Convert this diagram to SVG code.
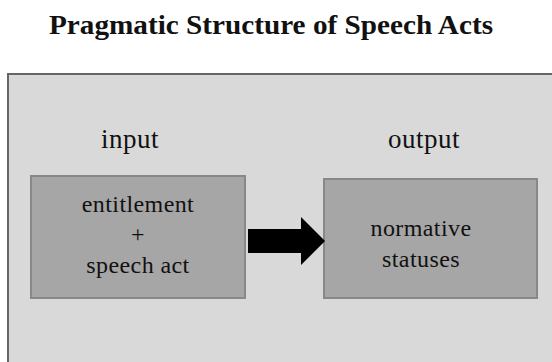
<svg xmlns="http://www.w3.org/2000/svg" width="552" height="362" viewBox="0 0 552 362">
<style>
.t{font-family:"Liberation Serif","DejaVu Serif",serif;fill:#111;text-anchor:middle}
.title{font-weight:bold;font-size:28px}
.lbl{font-size:27px;letter-spacing:0.5px}
.box{fill:#a6a6a6;stroke:#888;stroke-width:2}
.in{font-size:24px;letter-spacing:0.4px}
</style>
<rect width="552" height="362" fill="#fff"/>
<text class="t title" x="271" y="34" textLength="444" lengthAdjust="spacingAndGlyphs">Pragmatic Structure of Speech Acts</text>
<g id="frame">
<rect x="8" y="74" width="550" height="300" fill="#d9d9d9" stroke="#666" stroke-width="2"/>
</g>
<text class="t lbl" x="130" y="148">input</text>
<text class="t lbl" x="424" y="148">output</text>
<g id="input">
<rect class="box" x="31" y="176" width="214" height="122"/>
<text class="t in" x="138" y="212">entitlement</text>
<text class="t in" x="138" y="242">+</text>
<text class="t in" x="138" y="273">speech act</text>
</g>
<g id="output">
<rect class="box" x="324" y="179" width="213" height="119"/>
<text class="t in" x="421" y="236">normative</text>
<text class="t in" x="421" y="267">statuses</text>
</g>
<g id="connectors">
<polygon points="248,229 301,229 301,217 325,241 301,265 301,253 248,253" fill="#000"/>
</g>
</svg>
